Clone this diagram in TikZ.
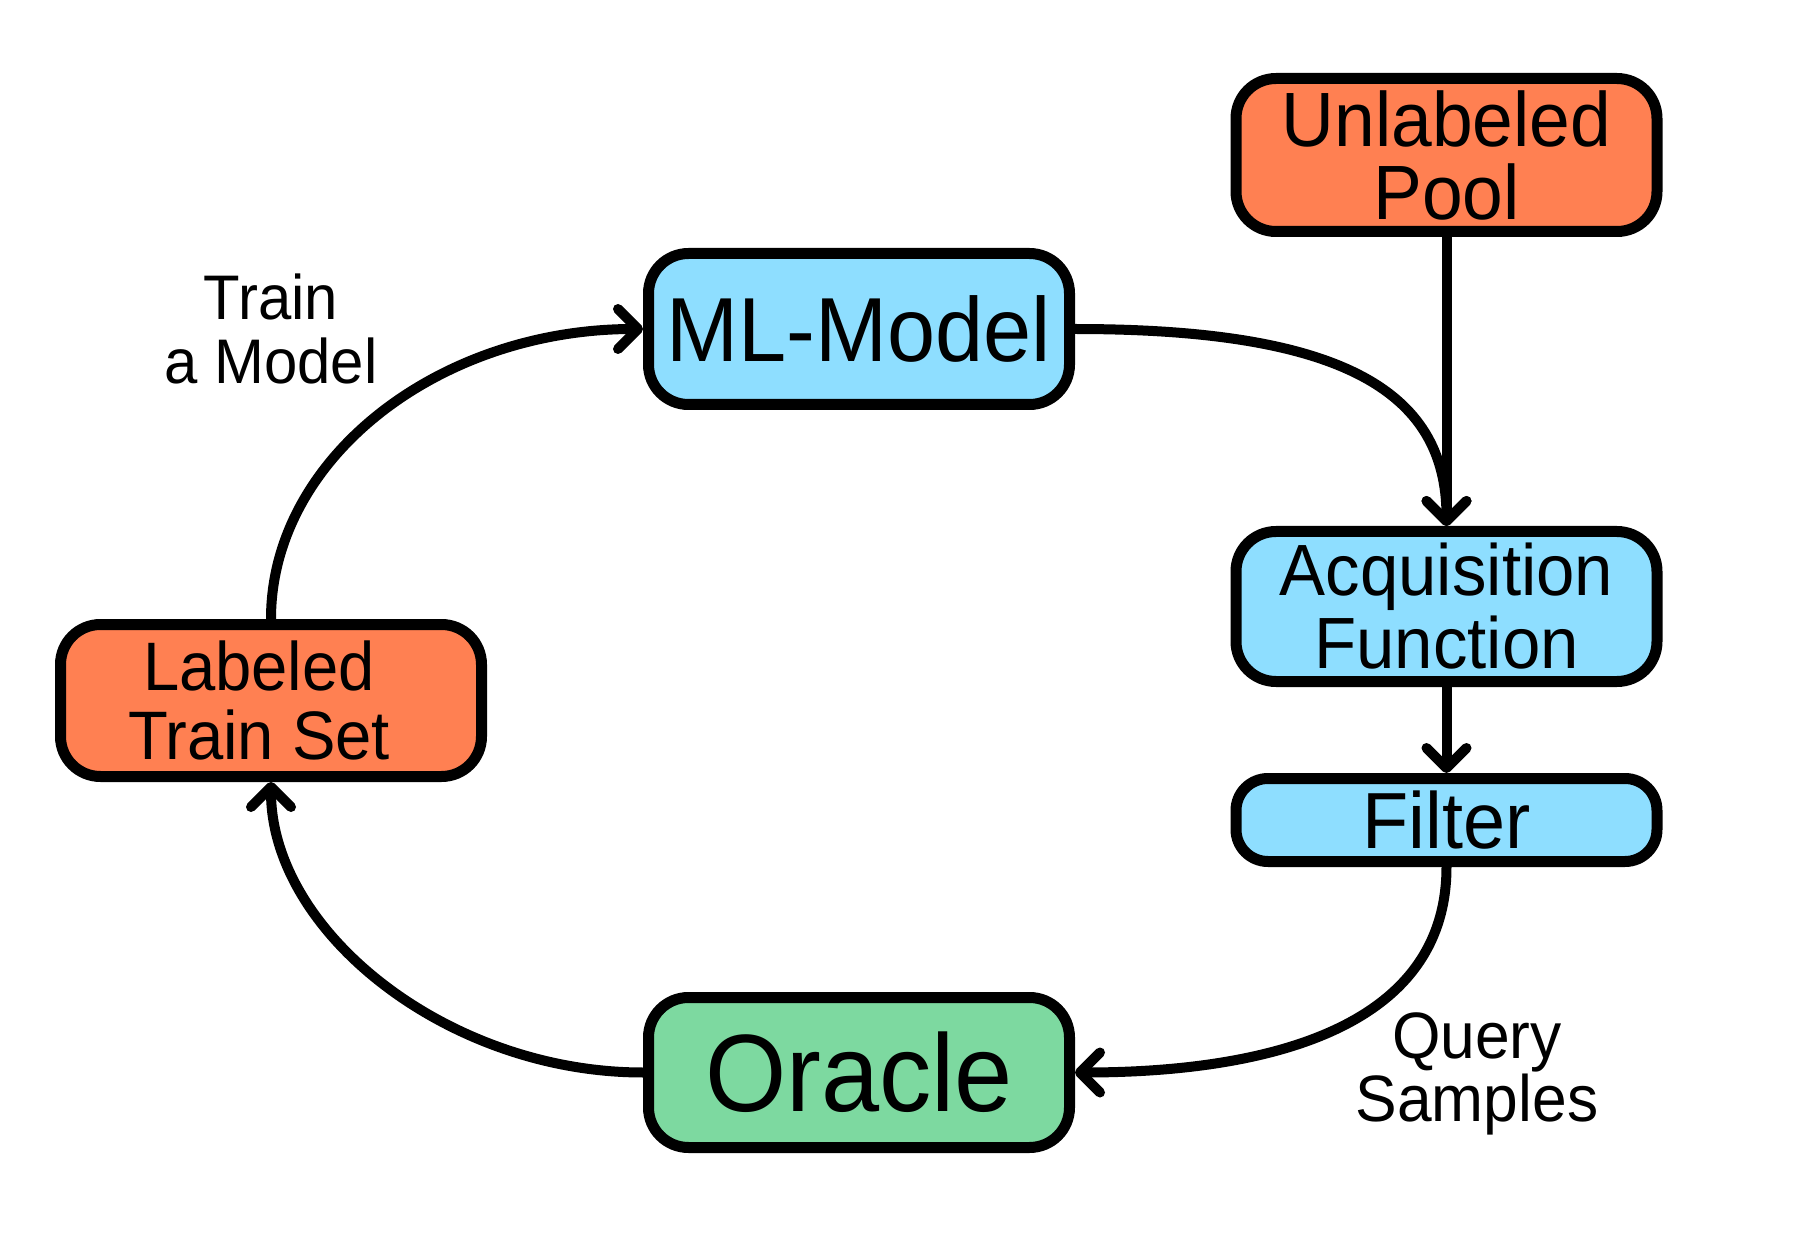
\documentclass[tikz,border=0pt]{standalone}
\usepackage{fontspec}
\setmainfont{Liberation Sans}[FakeStretch=0.95]
\usetikzlibrary{arrows.meta}
\definecolor{boxorange}{HTML}{FF8052}
\definecolor{boxblue}{HTML}{8EDEFF}
\definecolor{boxgreen}{HTML}{7DD9A0}
\tikzset{
  box/.style={draw=black, line width=5.5pt, rounded corners=20pt, inner sep=0pt,
    align=center, minimum width=210.5pt, minimum height=75.5pt},
  flow/.style={line width=5pt, line cap=round,
    -{Straight Barb[length=10pt,width=20pt,line cap=round,line join=round]}},
  lbl/.style={inner sep=0pt, align=center, anchor=north}
}
\begin{document}
\begin{tikzpicture}[x=0.5pt,y=-0.5pt]
\useasboundingbox (0,0) rectangle (1796,1241);
\node[box, fill=boxorange, minimum height=76.5pt, font=\fontsize{38.5}{36.5}\selectfont] (pool) at (1446.5,155) {Unlabeled\\Pool};
\node[box, fill=boxblue, font=\fontsize{45.5}{45.5}\selectfont] (ml) at (859,329) {ML-Model};
\node[box, fill=boxblue, minimum height=75pt, font=\fontsize{36.3}{36.5}\selectfont] (acq) at (1446.5,606.5) {Acquisition\\Function};
\node[box, fill=boxblue, minimum height=41.5pt, rounded corners=16pt, font=\fontsize{39.8}{39.8}\selectfont] (filter) at (1446.5,820) {Filter};
\node[box, fill=boxorange, minimum height=76pt, font=\fontsize{34.3}{34.5}\selectfont] (lab) at (271,700.5) {\hspace*{-12pt}Labeled\\\hspace*{-12pt}Train Set};
\node[box, fill=boxgreen, minimum height=75pt, font=\fontsize{55}{55}\selectfont] (oracle) at (859,1072.5) {Oracle};
\node[lbl, font=\fontsize{31.5}{32}\selectfont] (train) at (271,273) {Train\\a Model};
\node[lbl, font=\fontsize{32.8}{31.5}\selectfont] (query) at (1477,1012) {Query\\Samples};
\draw[flow] (pool.south) -- (acq.north);
\draw[flow] (acq.south) -- (filter.north);
\draw[flow] (ml.east) .. controls +(261,0) and +(0,-138) .. (acq.north);
\draw[flow] (filter.south) .. controls +(0,164) and +(186,0) .. (oracle.east);
\draw[flow] (oracle.west) .. controls +(-195,0) and +(0,150) .. (lab.south);
\draw[flow] (lab.north) .. controls +(0,-160) and +(-205,0) .. (ml.west);
\end{tikzpicture}
\end{document}
